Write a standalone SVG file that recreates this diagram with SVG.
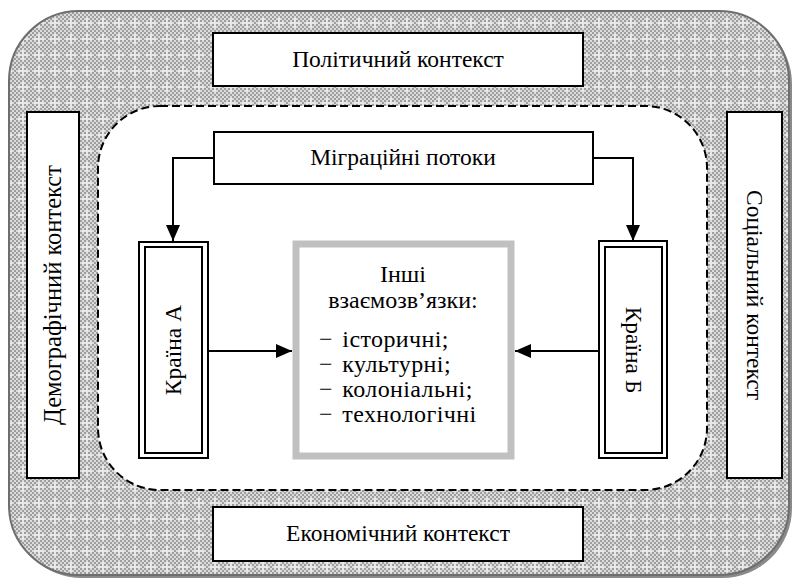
<svg xmlns="http://www.w3.org/2000/svg" width="795" height="581" viewBox="0 0 795 581">
<style>
  .t { font-family: 'Liberation Serif', 'Times New Roman', serif; font-size: 23.5px; fill: #000; }
  .l { font-size: 24px; }
  .li { font-size: 24px; word-spacing: 3px; letter-spacing: 0.4px; }
  .box { fill: #fff; stroke: #000; stroke-width: 2; }
  .con { fill: none; stroke: #000; stroke-width: 2; }
</style>
<defs>
  <pattern id="chk" width="4" height="4" patternUnits="userSpaceOnUse">
    <rect width="4" height="4" fill="#dcdcdc"/>
    <rect width="2" height="2" fill="#9e9e9e"/>
    <rect x="2" y="2" width="2" height="2" fill="#9e9e9e"/>
  </pattern>
  <pattern id="crs" width="16" height="16" patternUnits="userSpaceOnUse">
    <rect x="6" y="2" width="2" height="10" fill="#e8e8e8"/>
    <rect x="2" y="6" width="10" height="2" fill="#e8e8e8"/>
  </pattern>
  <marker id="arr" viewBox="0 0 16 14" refX="16" refY="7" markerWidth="16" markerHeight="14" markerUnits="userSpaceOnUse" orient="auto">
    <path d="M0,0 L16,7 L0,14 Z" fill="#000"/>
  </marker>
</defs>

<g id="background">
  <rect x="12" y="14" width="780" height="564" rx="70" fill="#8a8a8a"/>
  <rect x="9" y="11" width="780" height="564" rx="70" fill="url(#chk)"/>
  <rect x="9" y="11" width="780" height="564" rx="70" fill="url(#crs)"/>
  <rect x="9" y="11" width="780" height="564" rx="70" fill="none" stroke="#6e6e6e" stroke-width="2"/>
  <rect x="98" y="106" width="609" height="384" rx="62" fill="#fff" stroke="#000" stroke-width="2" stroke-dasharray="8,4"/>
</g>

<g id="political">
  <rect class="box" x="213" y="33" width="370" height="53"/>
  <text class="t" x="398" y="67" text-anchor="middle">Політичний контекст</text>
</g>

<g id="economic">
  <rect class="box" x="213" y="507" width="370" height="54"/>
  <text class="t" x="398" y="541" text-anchor="middle">Економічний контекст</text>
</g>

<g id="demographic">
  <rect class="box" x="27" y="112" width="52" height="366"/>
  <text class="t" transform="translate(61,295) rotate(-90)" text-anchor="middle" style="font-size:24.5px">Демографічний контекст</text>
</g>

<g id="social">
  <rect class="box" x="727" y="112" width="55" height="366"/>
  <text class="t" transform="translate(747,295) rotate(90)" text-anchor="middle">Соціальний контекст</text>
</g>

<g id="migration">
  <rect class="box" x="214" y="132" width="379" height="52"/>
  <text class="t" x="403" y="165" text-anchor="middle">Міграційні потоки</text>
</g>

<g id="countryA">
  <rect x="139" y="242" width="69" height="216" fill="#fff" stroke="#000" stroke-width="2"/>
  <rect x="145" y="247" width="57" height="206" fill="none" stroke="#000" stroke-width="2"/>
  <text class="t" transform="translate(181,350) rotate(-90)" text-anchor="middle">Країна А</text>
</g>

<g id="countryB">
  <rect x="599" y="241" width="68" height="217" fill="#fff" stroke="#000" stroke-width="2"/>
  <rect x="605" y="247" width="57" height="206" fill="none" stroke="#000" stroke-width="2"/>
  <text class="t" transform="translate(626,350) rotate(90)" text-anchor="middle">Країна Б</text>
</g>

<g id="other">
  <rect x="296" y="244" width="215" height="212" fill="#fff" stroke="#c0c0c0" stroke-width="7"/>
  <text class="t l" x="403" y="282" text-anchor="middle">Інші</text>
  <text class="t l" x="403" y="308" text-anchor="middle">взаємозв’язки:</text>
  <text class="t li" x="319" y="347">− історичні;</text>
  <text class="t li" x="319" y="372">− культурні;</text>
  <text class="t li" x="319" y="397">− колоніальні;</text>
  <text class="t li" x="319" y="422">− технологічні</text>
</g>

<g id="connectors">
  <polyline class="con" points="214,158 173,158 173,241" marker-end="url(#arr)"/>
  <polyline class="con" points="593,158 633,158 633,241" marker-end="url(#arr)"/>
  <line class="con" x1="208" y1="351" x2="292" y2="351" marker-end="url(#arr)"/>
  <line class="con" x1="599" y1="351" x2="515" y2="351" marker-end="url(#arr)"/>
</g>
</svg>
